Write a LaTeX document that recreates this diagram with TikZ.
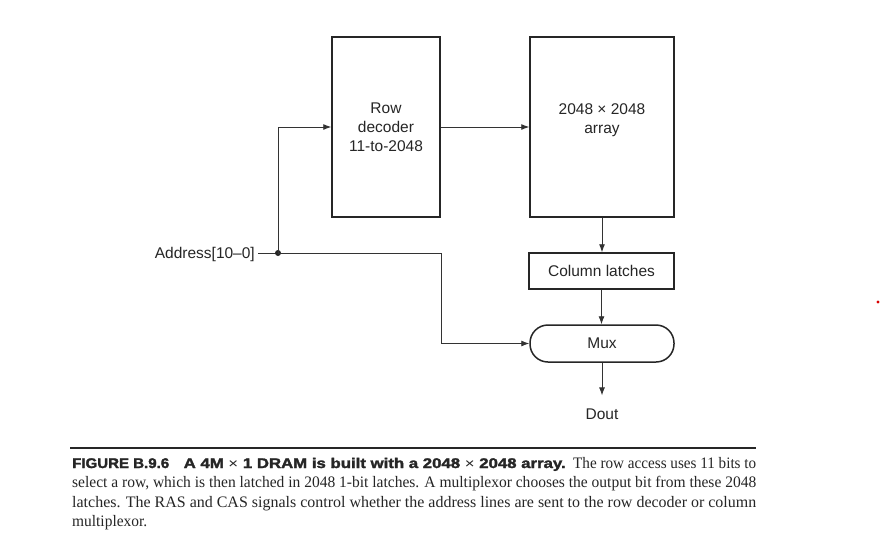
\documentclass[tikz,border=0pt]{standalone}
\usepackage{fontspec}
\usepackage{graphicx}
\setmainfont{Liberation Serif}
\setsansfont{Liberation Sans}
\newfontfamily\heavysans{Liberation Sans}[BoldFeatures={FakeBold=1.8}]
\usetikzlibrary{arrows.meta}
\definecolor{ink}{HTML}{262626}
\definecolor{wire}{HTML}{333333}
\begin{document}
\begin{tikzpicture}[x=1pt,y=-1pt,
  diafont/.style={font=\sffamily\fontsize{15.5}{19}\selectfont, text=ink},
  box/.style={draw=ink, line width=1.5pt, inner sep=0pt, diafont, align=center},
  conn/.style={draw=wire, line width=0.9pt},
  arr/.style={conn, -{Latex[length=8pt,width=6pt]}},
  lbl/.style={diafont, inner sep=0pt, align=center},
  captext/.style={anchor=base west, inner sep=0pt, text=ink}]
\useasboundingbox (0,0) rectangle (881,539);
\fill[white] (0,0) rectangle (881,539);

% boxes
\node[box, minimum width=108pt, minimum height=180pt] (rd) at (386,127) {Row\\decoder\\11-to-2048};
\node[box, minimum width=144pt, minimum height=180pt] (ar) at (602,127) {};
\node[lbl] (art) at (602,120) {2048 × 2048\\array};
\node[box, minimum width=145pt, minimum height=36pt] (cl) at (601.5,271) {Column latches};
\node[box, rounded corners=18pt, minimum width=144pt, minimum height=37pt] (mux) at (602,343.5) {Mux};
\node[lbl] (dout) at (602,414) {Dout};

% address input
\node[lbl, anchor=base east] (addr) at (255,258.5) {Address[10–0]};
\coordinate (j) at (278,253);
\coordinate (bend) at (441,253);
\draw[conn] ([xshift=3pt]addr.east |- j) -- (j);
\fill[ink] (j) circle (3pt);

% connectors
\draw[arr] (j) |- (rd.west);
\draw[arr] (rd.east) -- (ar.west);
\draw[conn] (j) -- (bend);
\draw[arr] (bend) |- (mux.west);
\draw[arr] (ar.south) -- (ar.south |- cl.north);
\draw[arr] (cl.south) -- (cl.south |- mux.north);
\draw[arr, shorten >=13pt] (mux.south) -- (dout.north);

% stray red dot
\fill[red!85!black] (878,302) circle (1.6pt);

% caption
\draw[draw=ink, line width=1.1pt] (70,448) -- (756,448);
\node[captext] (c1a) at (72,468) {\resizebox{97pt}{\height}{\heavysans\bfseries\fontsize{14}{16}\selectfont FIGURE B.9.6}};
\node[captext] (c1b) at (183.5,468) {\resizebox{382pt}{\height}{\heavysans\bfseries\fontsize{14}{16}\selectfont A 4M {\mdseries ×} 1 DRAM is built with a 2048 {\mdseries ×} 2048 array.}};
\node[captext] (c1c) at (573,468) {\resizebox{183pt}{\height}{\fontsize{16}{19}\selectfont The row access uses 11 bits to}};
\node[captext] (c2) at (72,487) {\resizebox{684pt}{\height}{\fontsize{16}{19}\selectfont select a row, which is then latched in 2048 1-bit latches. A multiplexor chooses the output bit from these 2048}};
\node[captext] (c3) at (72,507) {\resizebox{684pt}{\height}{\fontsize{16}{19}\selectfont latches. The RAS and CAS signals control whether the address lines are sent to the row decoder or column}};
\node[captext] (c4) at (72,526) {\resizebox{75pt}{\height}{\fontsize{16}{19}\selectfont multiplexor.}};
\end{tikzpicture}
\end{document}
